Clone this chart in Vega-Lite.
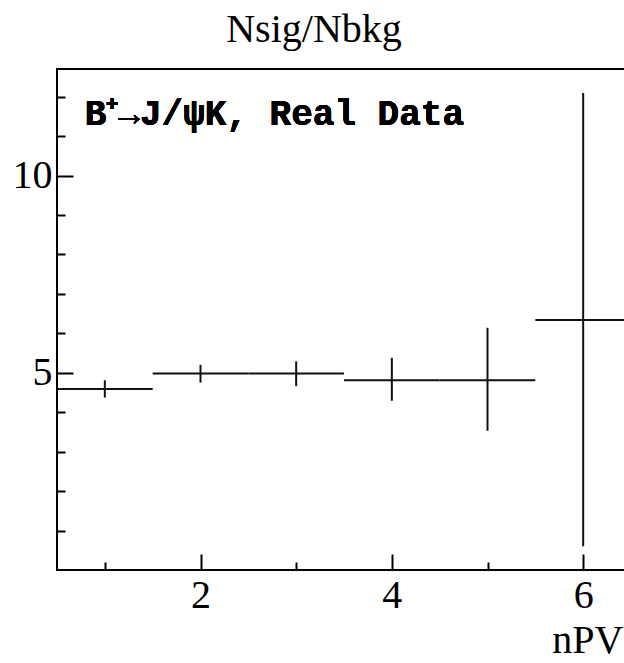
{
  "$schema": "https://vega.github.io/schema/vega-lite/v6.json",
  "autosize": "none",
  "width": 574,
  "height": 501,
  "padding": {"left": 57, "top": 69, "right": 0, "bottom": 93},
  "background": "white",
  "config": {
    "view": {"stroke": "#000", "strokeWidth": 2},
    "axis": {"domain": false, "grid": false, "labelFont": "Liberation Serif", "labelFontSize": 40, "labelColor": "#000", "tickColor": "#000", "tickWidth": 2, "titleFont": "Liberation Serif", "titleFontWeight": "normal", "titleColor": "#000", "format": "d"}
  },
  "title": {"text": "Nsig/Nbkg", "font": "Liberation Serif", "fontSize": 40, "fontWeight": "normal", "color": "#000", "anchor": "middle", "dx": -30, "offset": 19},
  "data": {"values": [
    {"nPV": 1, "xlo": 0.5, "xhi": 1.5, "val": 4.59, "lo": 4.37, "hi": 4.81},
    {"nPV": 2, "xlo": 1.5, "xhi": 2.5, "val": 4.98, "lo": 4.75, "hi": 5.2},
    {"nPV": 3, "xlo": 2.5, "xhi": 3.5, "val": 4.98, "lo": 4.66, "hi": 5.29},
    {"nPV": 4, "xlo": 3.5, "xhi": 4.5, "val": 4.81, "lo": 4.29, "hi": 5.38},
    {"nPV": 5, "xlo": 4.5, "xhi": 5.5, "val": 4.81, "lo": 3.53, "hi": 6.14},
    {"nPV": 6, "xlo": 5.5, "xhi": 6.5, "val": 6.34, "lo": 0.6, "hi": 12.09}
  ]},
  "layer": [
    {
      "mark": {"type": "rule", "color": "#111", "strokeWidth": 2},
      "encoding": {
        "x": {"field": "xlo", "type": "quantitative", "scale": {"domain": [0.5, 6.5], "nice": false, "zero": false},
          "axis": {"values": [1, 1.5, 2, 2.5, 3, 3.5, 4, 4.5, 5, 5.5, 6], "format": "d", "labelExpr": "datum.value % 2 === 0 ? datum.label : ''",
            "tickSize": {"condition": {"test": "datum.value % 2 === 0", "value": -16}, "value": -8},
            "labelPadding": 21, "title": "nPV", "titleFontSize": 40, "titleAnchor": "end", "titleAlign": "right", "titleX": 566, "titleY": 82, "titleBaseline": "alphabetic"}},
        "x2": {"field": "xhi"},
        "y": {"field": "val", "type": "quantitative", "scale": {"domain": [0, 12.7], "nice": false, "zero": false},
          "axis": {"values": [1, 2, 3, 4, 5, 6, 7, 8, 9, 10, 11, 12], "format": "d", "labelExpr": "datum.value % 5 === 0 ? datum.label : ''",
            "tickSize": {"condition": {"test": "datum.value % 5 === 0", "value": -16}, "value": -8},
            "labelPadding": 21, "title": null}}
      }
    },
    {
      "mark": {"type": "rule", "color": "#111", "strokeWidth": 2},
      "encoding": {
        "x": {"field": "nPV", "type": "quantitative"},
        "y": {"field": "lo", "type": "quantitative"},
        "y2": {"field": "hi"}
      }
    },
    {
      "mark": {"type": "text", "text": "B⁺→J/ψK, Real Data", "font": "Liberation Mono", "fontWeight": "bold", "fontSize": 36, "align": "left", "baseline": "alphabetic", "color": "#000"},
      "encoding": {
        "x": {"datum": 0.79},
        "y": {"datum": 11.28}
      }
    }
  ]
}
